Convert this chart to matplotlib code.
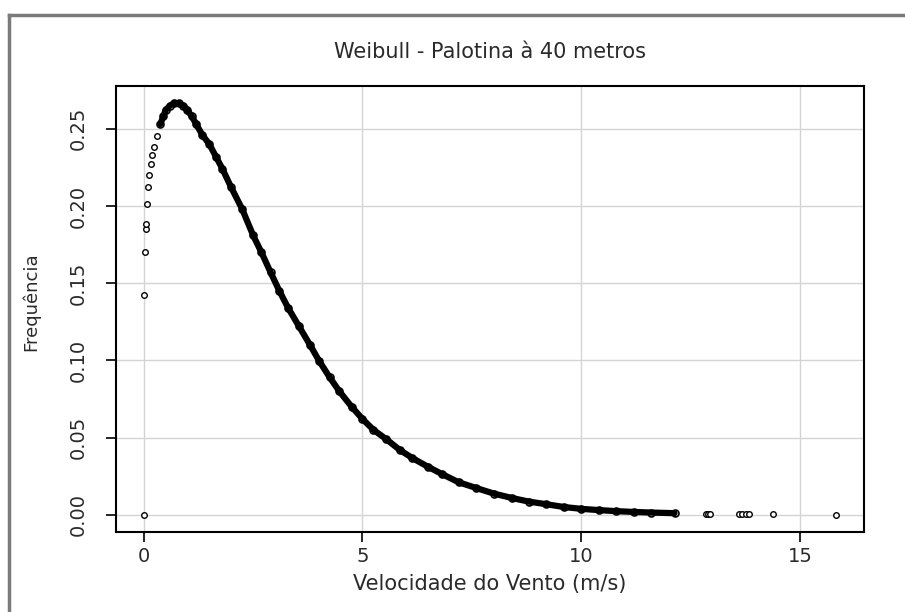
import matplotlib
matplotlib.use("Agg")
import matplotlib.pyplot as plt
from matplotlib.lines import Line2D

# Wind speed (m/s) and Weibull density.
# Sparse points near zero (drawn as single circles)
low_speed = [0.00, 0.01, 0.03, 0.05, 0.06, 0.08, 0.10, 0.13, 0.17, 0.20, 0.24, 0.30]
low_freq = [0.000, 0.142, 0.170, 0.185, 0.188, 0.201, 0.212, 0.220, 0.227, 0.233, 0.238, 0.245]

# Dense part of the curve
speed = [0.38, 0.45, 0.50, 0.60, 0.70, 0.80, 0.90, 1.00, 1.10, 1.20, 1.34, 1.50,
         1.66, 1.80, 2.00, 2.25, 2.50, 2.69, 2.90, 3.10, 3.30, 3.55, 3.80, 4.01,
         4.25, 4.47, 4.75, 5.00, 5.25, 5.54, 5.85, 6.14, 6.50, 6.82, 7.20, 7.60,
         8.00, 8.42, 8.80, 9.20, 9.60, 10.00, 10.40, 10.80, 11.20, 11.60, 12.13]
freq = [0.253, 0.258, 0.262, 0.265, 0.2665, 0.2665, 0.265, 0.262, 0.258, 0.253,
        0.246, 0.240, 0.2315, 0.224, 0.212, 0.198, 0.181, 0.170, 0.157, 0.145,
        0.134, 0.122, 0.110, 0.0996, 0.089, 0.080, 0.070, 0.062, 0.055, 0.049,
        0.042, 0.0367, 0.031, 0.0263, 0.021, 0.0173, 0.0137, 0.0108, 0.0085,
        0.0068, 0.0050, 0.0038, 0.0030, 0.0023, 0.0018, 0.0014, 0.0010]

# Isolated high-speed observations
tail_speed = [12.85, 12.90, 12.95, 13.60, 13.68, 13.76, 13.84, 14.37, 15.83]
tail_freq = [0.0004, 0.0004, 0.0004, 0.0003, 0.0003, 0.0003, 0.0003, 0.0002, 0.0001]

x_ticks = [0, 5, 10, 15]
y_ticks = [0.00, 0.05, 0.10, 0.15, 0.20, 0.25]
y_tick_labels = ["0.00", "0.05", "0.10", "0.15", "0.20", "0.25"]

text_color = "#2a2a2a"
plt.rcParams["font.family"] = ["DejaVu Sans"]

fig = plt.figure(figsize=(9.05, 6.12), dpi=100)
ax = fig.add_axes([0.1282, 0.1307, 0.8265, 0.7288])

ax.set_axisbelow(True)
ax.grid(True, color="#d4d4d4", linewidth=1.0)

# dense band of points: thick line plus hollow circles on top
ax.plot(speed, freq, color="black", linewidth=4.5, solid_capstyle="round")
ax.plot(speed, freq, linestyle="none", marker="o", markersize=5,
        markerfacecolor="none", markeredgecolor="black", markeredgewidth=1.2)
ax.plot(low_speed, low_freq, linestyle="none", marker="o", markersize=4,
        markerfacecolor="white", markeredgecolor="black", markeredgewidth=1.0)
ax.plot(tail_speed, tail_freq, linestyle="none", marker="o", markersize=4,
        markerfacecolor="white", markeredgecolor="black", markeredgewidth=1.0)

ax.set_xlim(-0.632, 16.46)
ax.set_ylim(-0.0112, 0.2777)

ax.set_xticks(x_ticks)
ax.set_yticks(y_ticks)
ax.set_yticklabels(y_tick_labels, rotation=90, va="center")
ax.tick_params(axis="both", direction="out", length=7, width=1.2,
               labelsize=14, labelcolor=text_color, color="black")
ax.tick_params(axis="x", pad=4)
ax.tick_params(axis="y", pad=13)

for side in ax.spines.values():
    side.set_linewidth(1.5)
    side.set_color("black")

fig.text(0.541, 0.915, "Weibull - Palotina à 40 metros", ha="center", va="center",
         fontsize=15, color=text_color)
fig.text(0.541, 0.046, "Velocidade do Vento (m/s)", ha="center", va="center",
         fontsize=15, color=text_color)
fig.text(0.034, 0.507, "Frequência", ha="center", va="center", rotation=90,
         fontsize=13, color=text_color)

# gray window frame on top and left
fig.add_artist(Line2D([0.0099, 1.0], [0.9755, 0.9755], transform=fig.transFigure,
                      color="#7a7a7a", linewidth=2.5))
fig.add_artist(Line2D([0.0099, 0.0099], [0.0, 0.9755], transform=fig.transFigure,
                      color="#7a7a7a", linewidth=2.5))

fig.savefig("out.png", dpi=100, facecolor="white")
